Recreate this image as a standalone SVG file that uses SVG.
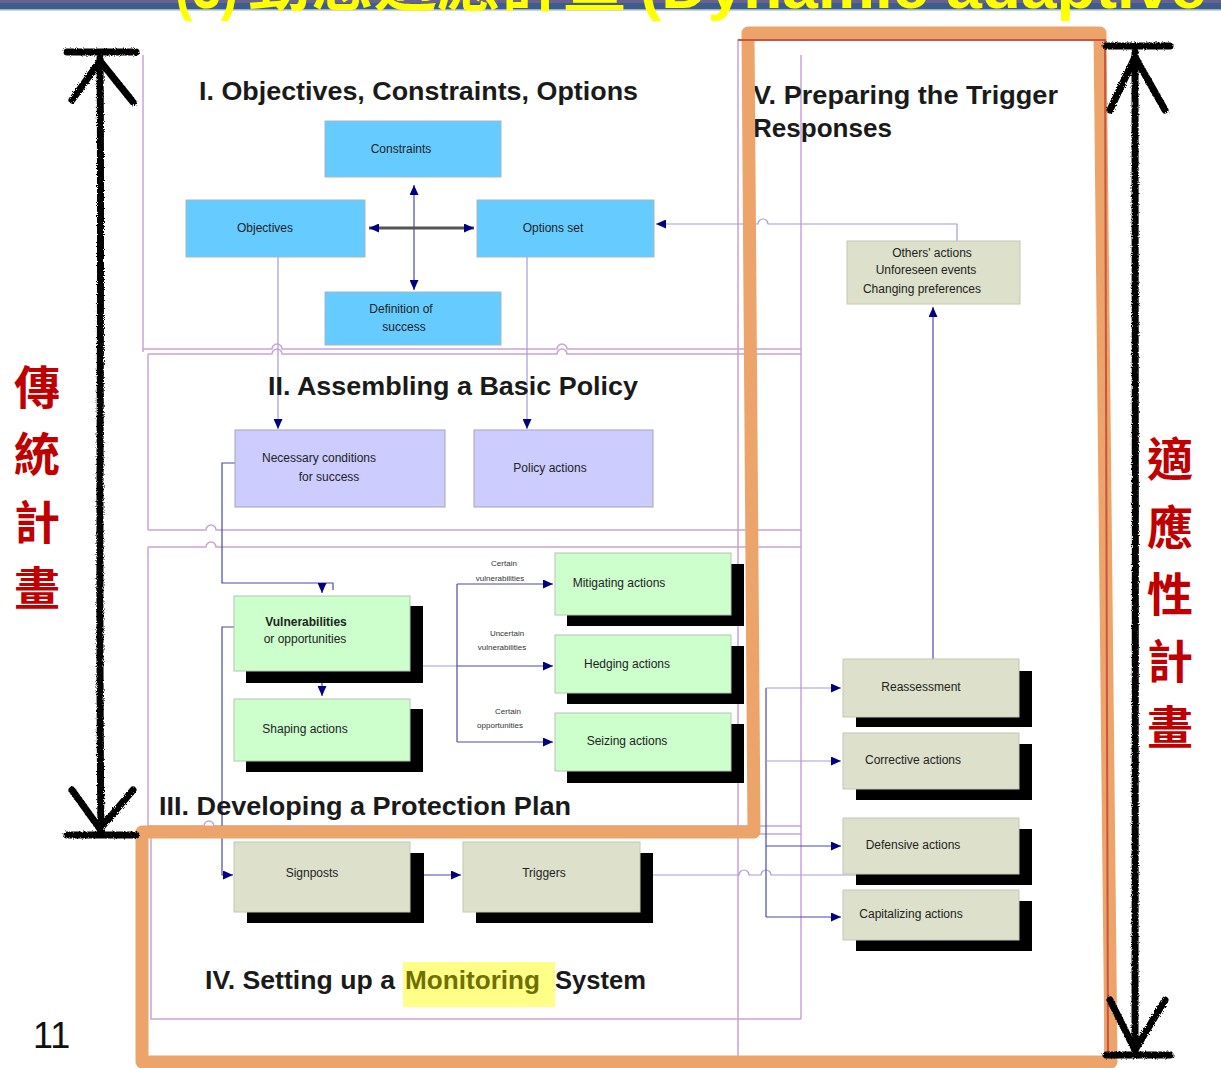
<svg xmlns="http://www.w3.org/2000/svg" width="1221" height="1068" viewBox="0 0 1221 1068">
<style>
  .frame{fill:none;stroke:#c9a3d8;stroke-width:1.5}
  .blue{fill:#66ccff;stroke:#a9b6c2;stroke-width:1}
  .lav{fill:#ccccff;stroke:#a4a4bc;stroke-width:1}
  .green{fill:#ccffcc;stroke:#b4c4b4;stroke-width:1}
  .sage{fill:#dde0cb;stroke:#c4c8b4;stroke-width:1}
  .shadow{fill:#000}
  .lbl{font-family:"Liberation Sans",Arial,sans-serif;font-size:12px;fill:#222;text-anchor:middle}
  .tiny{font-size:8px;fill:#333}
  .title{font-family:"Liberation Sans",Arial,sans-serif;font-weight:bold;font-size:26px;fill:#1a1a1a}
  .conn{fill:none;stroke:#4848b0;stroke-width:1.2}
  .lt{stroke:#a59bd8}
  .thick{stroke:#555;stroke-width:3}
  .cjk{font-family:"Liberation Sans","Noto Sans CJK TC",sans-serif;font-weight:bold;font-size:46px;fill:#c00000;text-anchor:middle}
  .hand{fill:none;stroke:#000;stroke-width:7;stroke-linecap:round;stroke-linejoin:round}
  .orange{fill:none;stroke:#eca46a;stroke-width:13;stroke-linejoin:round;stroke-linecap:round}
</style>
<defs>
  <marker id="arr" markerUnits="userSpaceOnUse" markerWidth="10" markerHeight="9" refX="10" refY="4.5" orient="auto-start-reverse">
    <path d="M0,0 L10,4.5 L0,9 z" fill="#000080"/>
  </marker>
  <filter id="rough" x="-10%" y="-5%" width="120%" height="110%">
    <feTurbulence type="fractalNoise" baseFrequency="0.9" numOctaves="2" seed="3" result="n"/>
    <feDisplacementMap in="SourceGraphic" in2="n" scale="3.5"/>
  </filter>
</defs>

<!-- page background -->
<rect width="1221" height="1068" fill="#fff"/>

<!-- header band with slide title -->
<g id="header">
  <rect x="0" y="0" width="1221" height="3" fill="#6a628c"/>
  <rect x="0" y="3" width="1221" height="6" fill="#3c5e8c"/>
  <rect x="0" y="9" width="1221" height="1.5" fill="#9eaec4"/>
  <text x="175" y="8" font-family="Liberation Sans,sans-serif" font-weight="bold" font-size="62" fill="#ffff00" textLength="63" lengthAdjust="spacingAndGlyphs">(3)</text>
  <text x="248" y="5" font-family="Noto Sans CJK TC,sans-serif" font-weight="bold" font-size="63" fill="#ffff00">動態適應計畫</text>
  <text x="640" y="8" font-family="Liberation Sans,sans-serif" font-weight="bold" font-size="62" fill="#ffff00" textLength="566" lengthAdjust="spacingAndGlyphs">(Dynamic adaptive</text>
</g>

<!-- section frames -->
<g id="frames" class="frame">
  <path d="M143,55 V352"/>
  <path d="M143,349 H272 a5,5 0 0 1 10,0 H557 a5,5 0 0 1 10,0 H801"/>
  <path d="M148,354 H272 a5,5 0 0 1 10,0 H557 a5,5 0 0 1 10,0 H801"/>
  <path d="M148,354 V530"/>
  <path d="M148,530 H206 a5,5 0 0 1 10,0 H801"/>
  <path d="M148,547 H206 a5,5 0 0 1 10,0 H801"/>
  <path d="M148,547 V826"/>
  <path d="M148,826 H204 a5,5 0 0 1 10,0 H801"/>
  <path d="M151,834 V1019 H801"/>
  <path d="M738,834 H801"/>
  <path d="M801,55 V1019"/>
  <path d="M738,40 H1105 V1058 H738 Z"/>
</g>

<!-- connectors -->
<g id="connectors">
  <path class="conn" d="M414,185 V290" marker-start="url(#arr)" marker-end="url(#arr)"/>
  <path class="conn thick" d="M369,228 H474" marker-start="url(#arr)" marker-end="url(#arr)"/>
  <path class="conn lt" d="M278,257 V429" marker-end="url(#arr)"/>
  <path class="conn lt" d="M527,257 V429" marker-end="url(#arr)"/>
  <path class="conn lt" d="M957,241 V224 H768 a5,5 0 0 0 -10,0 H656" marker-end="url(#arr)"/>
  <path class="conn" d="M235,463 H222 V583 H333 V590"/>
  <path class="conn" d="M322,583 V593" marker-end="url(#arr)"/>
  <path class="conn" d="M322,672 V696" marker-end="url(#arr)"/>
  <path class="conn lt" d="M411,666 H457"/>
  <path class="conn" d="M457,666 H553" marker-end="url(#arr)"/>
  <path class="conn" d="M457,584 V742"/>
  <path class="conn" d="M457,584 H553" marker-end="url(#arr)"/>
  <path class="conn" d="M457,742 H553" marker-end="url(#arr)"/>
  <path class="conn" d="M234,627 H222 V875 H233" marker-end="url(#arr)"/>
  <path class="conn" d="M411,875 H461" marker-end="url(#arr)"/>
  <path class="conn lt" d="M653,875 H739 a5,5 0 0 1 10,0 H761 a5,5 0 0 1 10,0 H856"/>
  <path class="conn" d="M766,688 V917"/>
  <path class="conn lt" d="M766,688 H841" marker-end="url(#arr)"/>
  <path class="conn lt" d="M766,761 H841" marker-end="url(#arr)"/>
  <path class="conn" d="M766,846 H841" marker-end="url(#arr)"/>
  <path class="conn" d="M766,917 H841" marker-end="url(#arr)"/>
  <path class="conn" d="M933,659 V307" marker-end="url(#arr)"/>
</g>

<!-- I. Objectives, Constraints, Options -->
<text class="title" x="199" y="100" textLength="439" lengthAdjust="spacingAndGlyphs">I. Objectives, Constraints, Options</text>
<g id="constraints"><rect class="blue" x="325" y="121" width="176" height="56"/><text class="lbl" x="401" y="153">Constraints</text></g>
<g id="objectives"><rect class="blue" x="186" y="200" width="179" height="57"/><text class="lbl" x="265" y="232">Objectives</text></g>
<g id="options-set"><rect class="blue" x="477" y="200" width="177" height="57"/><text class="lbl" x="553" y="232">Options set</text></g>
<g id="definition-of-success"><rect class="blue" x="325" y="292" width="176" height="53"/><text class="lbl" x="401" y="313">Definition of</text><text class="lbl" x="404" y="331">success</text></g>

<!-- II. Assembling a Basic Policy -->
<text class="title" x="268" y="395" textLength="370" lengthAdjust="spacingAndGlyphs">II. Assembling a Basic Policy</text>
<g id="necessary-conditions"><rect class="lav" x="235" y="430" width="210" height="77"/><text class="lbl" x="319" y="462">Necessary conditions</text><text class="lbl" x="329" y="481">for success</text></g>
<g id="policy-actions"><rect class="lav" x="474" y="430" width="179" height="77"/><text class="lbl" x="550" y="472">Policy actions</text></g>

<!-- III. Developing a Protection Plan -->
<g id="vulnerabilities"><rect class="shadow" x="246" y="606" width="177" height="77"/><rect class="green" x="234" y="596" width="176" height="75"/><text class="lbl" x="306" y="626" font-weight="bold">Vulnerabilities</text><text class="lbl" x="305" y="643">or opportunities</text></g>
<g id="shaping-actions"><rect class="shadow" x="246" y="709" width="177" height="63"/><rect class="green" x="234" y="699" width="176" height="62"/><text class="lbl" x="305" y="733">Shaping actions</text></g>
<g id="mitigating-actions"><rect class="shadow" x="567" y="564" width="177" height="62"/><rect class="green" x="555" y="553" width="176" height="62"/><text class="lbl" x="619" y="587">Mitigating actions</text></g>
<g id="hedging-actions"><rect class="shadow" x="567" y="646" width="177" height="58"/><rect class="green" x="555" y="635" width="176" height="58"/><text class="lbl" x="627" y="668">Hedging actions</text></g>
<g id="seizing-actions"><rect class="shadow" x="567" y="724" width="177" height="59"/><rect class="green" x="555" y="713" width="176" height="58"/><text class="lbl" x="627" y="745">Seizing actions</text></g>
<g id="branch-labels">
  <text class="lbl tiny" x="504" y="566">Certain</text><text class="lbl tiny" x="500" y="581">vulnerabilities</text>
  <text class="lbl tiny" x="507" y="636">Uncertain</text><text class="lbl tiny" x="502" y="650">vulnerabilities</text>
  <text class="lbl tiny" x="508" y="714">Certain</text><text class="lbl tiny" x="500" y="728">opportunities</text>
</g>
<text class="title" x="159" y="815" textLength="412" lengthAdjust="spacingAndGlyphs">III. Developing a Protection  Plan</text>

<!-- IV. Setting up a Monitoring System -->
<g id="signposts"><rect class="shadow" x="247" y="853" width="177" height="70"/><rect class="sage" x="234" y="842" width="176" height="70"/><text class="lbl" x="312" y="877">Signposts</text></g>
<g id="triggers"><rect class="shadow" x="476" y="853" width="177" height="70"/><rect class="sage" x="463" y="842" width="177" height="70"/><text class="lbl" x="544" y="877">Triggers</text></g>
<rect x="403" y="962" width="152" height="45" fill="#ffff88"/>
<text class="title" x="205" y="989" textLength="190" lengthAdjust="spacingAndGlyphs">IV. Setting up a</text>
<text class="title" x="405" y="989" fill="#6e6e00" style="fill:#707000" textLength="135" lengthAdjust="spacingAndGlyphs">Monitoring</text>
<text class="title" x="555" y="989" textLength="91" lengthAdjust="spacingAndGlyphs">System</text>

<!-- V. Preparing the Trigger Responses -->
<text class="title" x="753" y="104" textLength="305" lengthAdjust="spacingAndGlyphs">V. Preparing the Trigger</text>
<text class="title" x="753" y="137" textLength="139" lengthAdjust="spacingAndGlyphs">Responses</text>
<g id="external-changes"><rect class="sage" x="847" y="241" width="173" height="63"/><text class="lbl" x="932" y="257">Others' actions</text><text class="lbl" x="926" y="274">Unforeseen events</text><text class="lbl" x="922" y="293">Changing preferences</text></g>
<g id="reassessment"><rect class="shadow" x="856" y="671" width="176" height="56"/><rect class="sage" x="843" y="659" width="176" height="58"/><text class="lbl" x="921" y="691">Reassessment</text></g>
<g id="corrective-actions"><rect class="shadow" x="856" y="744" width="176" height="56"/><rect class="sage" x="843" y="733" width="176" height="56"/><text class="lbl" x="913" y="764">Corrective actions</text></g>
<g id="defensive-actions"><rect class="shadow" x="856" y="829" width="176" height="56"/><rect class="sage" x="843" y="818" width="176" height="56"/><text class="lbl" x="913" y="849">Defensive actions</text></g>
<g id="capitalizing-actions"><rect class="shadow" x="856" y="901" width="176" height="50"/><rect class="sage" x="843" y="890" width="176" height="50"/><text class="lbl" x="911" y="918">Capitalizing actions</text></g>

<!-- orange outline around the adaptive part -->
<path class="orange" d="M748,33 H1100 L1111,1062 H142 V832 H754 Z"/>
<path d="M738,40 H1105 L1108,1058" fill="none" stroke="#c8553f" stroke-width="2"/>

<!-- hand-drawn span arrows -->
<g filter="url(#rough)">
  <path class="hand" d="M100,58 C102,300 98,560 101,830"/>
  <path class="hand" d="M67,52 H136"/>
  <path class="hand" d="M72,100 L100,61 L133,102"/>
  <path class="hand" d="M67,835 H136"/>
  <path class="hand" d="M72,790 L100,829 L133,790"/>
  <path class="hand" d="M1135,52 C1133,400 1138,700 1135,1050"/>
  <path class="hand" d="M1106,46 H1170"/>
  <path class="hand" d="M1110,110 L1135,57 L1165,110"/>
  <path class="hand" d="M1106,1055 H1170"/>
  <path class="hand" d="M1110,1000 L1135,1050 L1165,1000"/>
</g>

<!-- side labels -->
<g id="label-traditional" class="cjk">
  <text x="37" y="404">傳</text>
  <text x="37" y="471">統</text>
  <text x="37" y="539">計</text>
  <text x="37" y="605">畫</text>
</g>
<g id="label-adaptive" class="cjk">
  <text x="1170" y="476">適</text>
  <text x="1170" y="544">應</text>
  <text x="1170" y="611">性</text>
  <text x="1170" y="678">計</text>
  <text x="1170" y="744">畫</text>
</g>

<text x="33" y="1048" font-family="Liberation Sans,sans-serif" font-size="36" fill="#111">11</text>
</svg>
